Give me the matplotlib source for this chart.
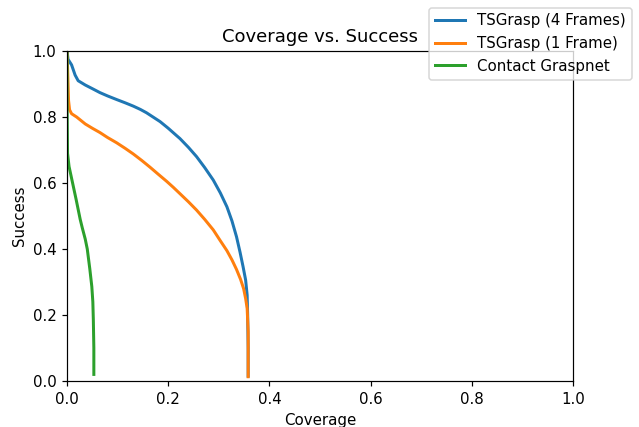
import matplotlib
matplotlib.use('Agg')
import matplotlib.pyplot as plt

# TSGrasp (4 frames)
cov_4 = [0.0, 0.002, 0.009, 0.016, 0.022, 0.036, 0.05, 0.065, 0.08, 0.098, 0.115, 0.131,
         0.145, 0.157, 0.17, 0.184, 0.2, 0.217, 0.223, 0.240, 0.256, 0.272, 0.289, 0.303,
         0.316, 0.326, 0.335, 0.342, 0.348, 0.353, 0.356, 0.357, 0.358, 0.358]
suc_4 = [1.0, 0.975, 0.958, 0.927, 0.91, 0.897, 0.886, 0.874, 0.864, 0.853, 0.843, 0.833,
         0.823, 0.813, 0.80, 0.786, 0.766, 0.743, 0.735, 0.708, 0.68, 0.647, 0.609, 0.57,
         0.528, 0.485, 0.437, 0.39, 0.346, 0.306, 0.26, 0.2, 0.1, 0.015]

# TSGrasp (1 frame)
cov_1 = [0.0, 0.002, 0.003, 0.005, 0.009, 0.019, 0.036, 0.05, 0.065, 0.08, 0.098, 0.115,
         0.131, 0.148, 0.164, 0.18, 0.197, 0.21, 0.223, 0.24, 0.256, 0.272, 0.289, 0.303,
         0.316, 0.326, 0.335, 0.343, 0.349, 0.353, 0.356, 0.358, 0.358]
suc_1 = [1.0, 0.9, 0.85, 0.822, 0.81, 0.80, 0.779, 0.766, 0.753, 0.738, 0.722, 0.705,
         0.688, 0.668, 0.648, 0.627, 0.605, 0.587, 0.568, 0.543, 0.518, 0.49, 0.458, 0.425,
         0.395, 0.367, 0.338, 0.308, 0.28, 0.25, 0.22, 0.15, 0.013]

# Contact Graspnet
cov_c = [0.0, 0.0, 0.001, 0.004, 0.011, 0.018, 0.026, 0.030, 0.036, 0.040, 0.045, 0.049,
         0.051, 0.052, 0.053, 0.053]
suc_c = [1.0, 0.86, 0.69, 0.65, 0.60, 0.55, 0.49, 0.465, 0.43, 0.40, 0.34, 0.286,
         0.24, 0.185, 0.10, 0.02]

dpi = 108
fig = plt.figure(figsize=(639 / dpi, 427 / dpi), dpi=dpi)
ax = fig.add_axes([0.1049, 0.1077, 0.7918, 0.7728])
ax.plot(cov_4, suc_4, lw=2, label='TSGrasp (4 Frames)')
ax.plot(cov_1, suc_1, lw=2, label='TSGrasp (1 Frame)')
ax.plot(cov_c, suc_c, lw=2, label='Contact Graspnet')
ax.set_xlim(0, 1)
ax.set_ylim(0, 1)
ax.set_xlabel('Coverage')
ax.set_ylabel('Success')
ax.set_title('Coverage vs. Success')
fig.legend(loc='upper right')
fig.savefig('out.png', dpi=dpi)
